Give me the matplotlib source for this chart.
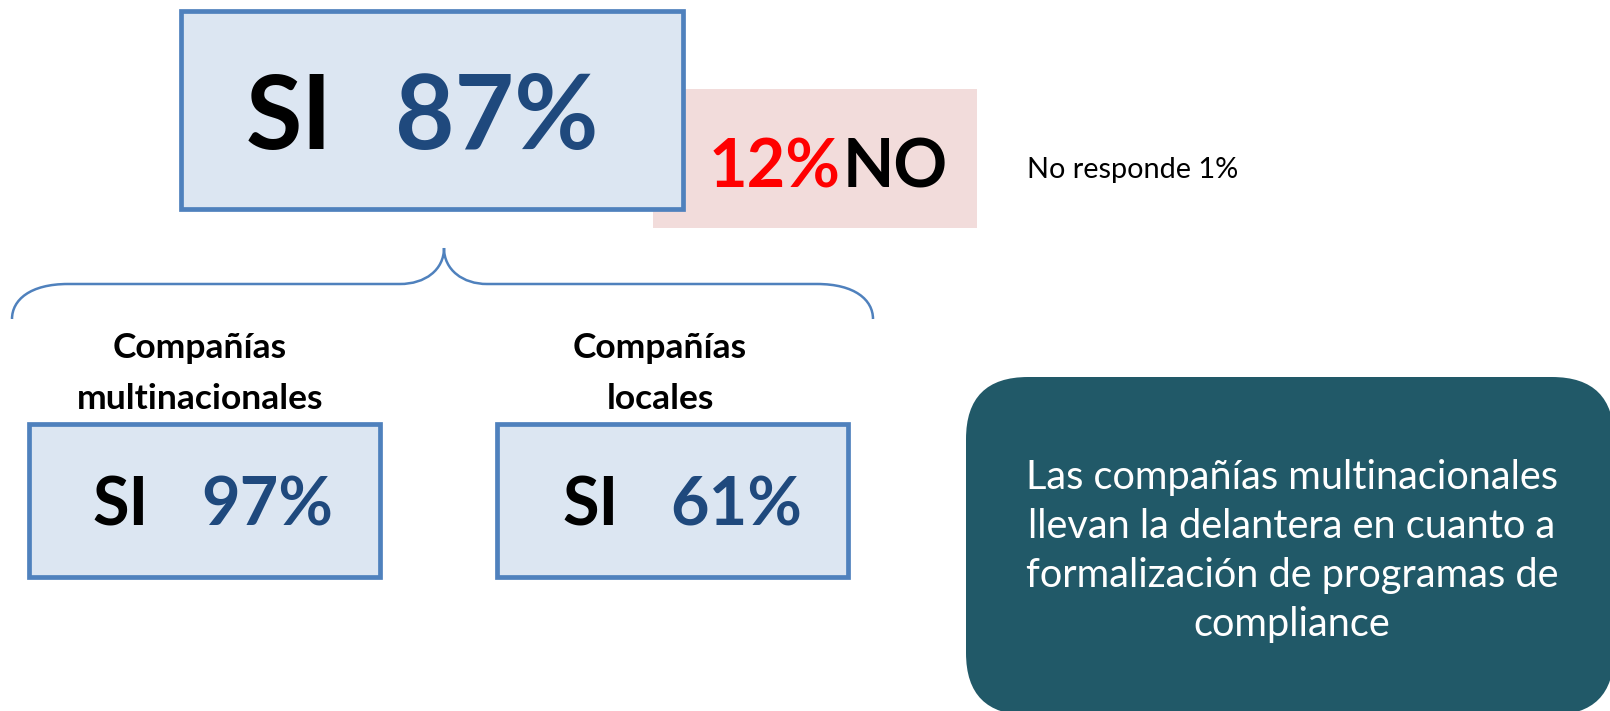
import matplotlib.pyplot as plt
from matplotlib.patches import Rectangle, FancyBboxPatch, PathPatch
from matplotlib.path import Path

# Survey results
overall_labels = ['SI', 'NO', 'No responde']
overall_values = [87, 12, 1]

segment_names = ['Compañías\nmultinacionales', 'Compañías\nlocales']
segment_si = [97, 61]

note_lines = ['Las compañías multinacionales',
              'llevan la delantera en cuanto a',
              'formalización de programas de',
              'compliance']

# Colours
BOX_FILL = '#DCE6F2'
BOX_EDGE = '#4F81BD'
PINK = '#F2DCDB'
DARK_BLUE = '#1F497D'
TEAL = '#215968'

plt.rcParams['font.family'] = ['Lato', 'DejaVu Sans']

fig = plt.figure(figsize=(16.1, 7.11), dpi=100)
ax = fig.add_axes([0, 0, 1, 1])
ax.set_xlim(0, 1610)
ax.set_ylim(711, 0)
ax.axis('off')

# "NO" box behind the main one
ax.add_patch(Rectangle((653, 89), 324, 139, facecolor=PINK, edgecolor='none', zorder=1))
ax.add_patch(Rectangle((181, 11), 502, 198, facecolor=BOX_FILL, edgecolor=BOX_EDGE, lw=3.4, zorder=2))

ax.text(246, 149, overall_labels[0], fontsize=74, fontweight='bold', color='black', va='baseline', zorder=3)
ax.text(395, 149, f'{overall_values[0]}%', fontsize=74, fontweight='bold', color=DARK_BLUE, va='baseline', zorder=3)

ax.text(709, 188, f'{overall_values[1]}%', fontsize=48, fontweight='bold', color='red', va='baseline', zorder=3)
ax.text(843, 188, overall_labels[1], fontsize=48, fontweight='bold', color='black', va='baseline', zorder=3)

ax.text(1027, 178, f'{overall_labels[2]} {overall_values[2]}%', fontsize=20.8, color='black', va='baseline')

# curly brace
verts = [(12, 319), (12, 300), (30, 284), (68, 284),
         (400, 284),
         (425, 284), (444, 270), (444, 248),
         (444, 270), (463, 284), (487, 284),
         (817, 284),
         (855, 284), (873, 300), (873, 319)]
codes = [Path.MOVETO, Path.CURVE4, Path.CURVE4, Path.CURVE4,
         Path.LINETO,
         Path.CURVE4, Path.CURVE4, Path.CURVE4,
         Path.CURVE4, Path.CURVE4, Path.CURVE4,
         Path.LINETO,
         Path.CURVE4, Path.CURVE4, Path.CURVE4]
ax.add_patch(PathPatch(Path(verts, codes), facecolor='none', edgecolor=BOX_EDGE, lw=1.8))

# segment boxes
box_x = [29, 497]
label_cx = [200, 660]
si_x = [92, 562]
val_x = [201, 670]
for i in range(len(segment_names)):
    # va='baseline' on multi-line text anchors the last line
    ax.text(label_cx[i], 409, segment_names[i], fontsize=25.5, fontweight='bold', ha='center', va='baseline',
            linespacing=1.72, multialignment='center')
    ax.add_patch(Rectangle((box_x[i], 424), 351, 153, facecolor=BOX_FILL, edgecolor=BOX_EDGE, lw=3.4))
    ax.text(si_x[i], 526, 'SI', fontsize=48, fontweight='bold', color='black', va='baseline')
    ax.text(val_x[i], 526, f'{segment_si[i]}%', fontsize=48, fontweight='bold', color=DARK_BLUE, va='baseline')

# conclusion box
ax.add_patch(FancyBboxPatch((966, 377), 648, 338, boxstyle='round,pad=0,rounding_size=62',
                            facecolor=TEAL, edgecolor='none', clip_on=False))
for i, line in enumerate(note_lines):
    ax.text(1292, 489 + i * 49, line, fontsize=28.6, color='white', ha='center', va='baseline')

fig.savefig('out.png', dpi=100)
